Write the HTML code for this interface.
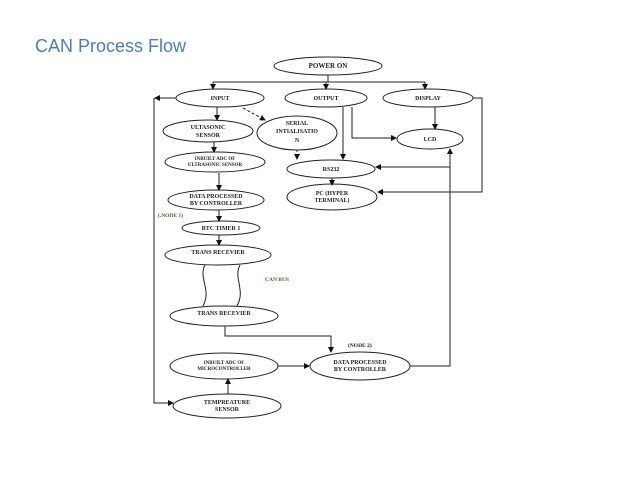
<!DOCTYPE html>
<html><head><meta charset="utf-8"><style>
html,body{margin:0;padding:0;background:#fff;}
svg{display:block}
.t{font-family:"Liberation Serif",serif;font-size:6px;font-weight:bold;fill:#222;text-anchor:middle}
</style></head><body>
<svg width="638" height="479" viewBox="0 0 638 479" xmlns="http://www.w3.org/2000/svg">
<defs><marker id="a" markerWidth="6" markerHeight="6" refX="5" refY="3" orient="auto" markerUnits="userSpaceOnUse"><path d="M0,0 L6,3 L0,6 z" fill="#111"/></marker></defs>
<text x="35" y="52" font-family="Liberation Sans,sans-serif" font-size="18" fill="#4a7ebb">CAN Process Flow</text>
<g fill="none" stroke="#222" stroke-width="1">
<ellipse cx="328" cy="66" rx="54" ry="9"/>
<ellipse cx="220" cy="98" rx="44" ry="9"/>
<ellipse cx="326" cy="98" rx="41" ry="9"/>
<ellipse cx="428" cy="98" rx="45" ry="9"/>
<ellipse cx="208" cy="131" rx="45" ry="11"/>
<ellipse cx="297" cy="133" rx="40" ry="17"/>
<ellipse cx="215" cy="162" rx="50" ry="10"/>
<ellipse cx="216" cy="200" rx="48" ry="10"/>
<ellipse cx="221" cy="228" rx="39" ry="7"/>
<ellipse cx="218" cy="255" rx="53" ry="10"/>
<ellipse cx="224" cy="316" rx="54" ry="10"/>
<ellipse cx="224" cy="366" rx="54" ry="13"/>
<ellipse cx="360" cy="366" rx="50" ry="14"/>
<ellipse cx="227" cy="406" rx="54" ry="12"/>
<ellipse cx="430" cy="139" rx="33" ry="10"/>
<ellipse cx="331" cy="169" rx="44" ry="9"/>
<ellipse cx="332" cy="197" rx="45" ry="13"/>
<path d="M328 75 V82 M213 82 H425"/>
<path d="M213 82 V89" marker-end="url(#a)"/>
<path d="M326 82 V89" marker-end="url(#a)"/>
<path d="M425 82 V89" marker-end="url(#a)"/>
<path d="M176 98 H155" marker-end="url(#a)"/>
<path d="M154 98 V403 H173" marker-end="url(#a)"/>
<path d="M217 107 V120" marker-end="url(#a)"/>
<path d="M243 108 L265 120" stroke-dasharray="3,2" marker-end="url(#a)"/>
<path d="M214 142 V152" marker-end="url(#a)"/>
<path d="M219 173 V190" marker-end="url(#a)"/>
<path d="M219 210 V221" marker-end="url(#a)"/>
<path d="M219 235 V245" marker-end="url(#a)"/>
<path d="M205 265 C198 278,212 290,203 306 M240 265 C233 278,246 290,237 306"/>
<path d="M225 326 V336 H331 V352" marker-end="url(#a)"/>
<path d="M278 366 H309" marker-end="url(#a)"/>
<path d="M228 394 V379" marker-end="url(#a)"/>
<path d="M410 366 H450 V149" marker-end="url(#a)"/>
<path d="M450 167 H376" marker-end="url(#a)"/>
<path d="M473 98 H482 V192 H378" marker-end="url(#a)"/>
<path d="M435 107 V129" marker-end="url(#a)"/>
<path d="M352 107 V138 H396" marker-end="url(#a)"/>
<path d="M343 107 V159" marker-end="url(#a)"/>
<path d="M297 150 V159" stroke-dasharray="2,2" marker-end="url(#a)"/>
<path d="M332 178 V185" marker-end="url(#a)"/>
</g>
<text class="t" x="328" y="68" style="font-size:7px">POWER ON</text>
<text class="t" x="220" y="100">INPUT</text>
<text class="t" x="326" y="100">OUTPUT</text>
<text class="t" x="428" y="100">DISPLAY</text>
<text class="t" x="208" y="129">ULTASONIC</text>
<text class="t" x="208" y="137">SENSOR</text>
<text class="t" x="297" y="125">SERIAL</text>
<text class="t" x="297" y="133">INTIALISATIO</text>
<text class="t" x="297" y="142">N</text>
<text class="t" x="215" y="160" style="font-size:5px">INBUILT ADC OF</text>
<text class="t" x="215" y="166" style="font-size:5px">ULTRASONIC SENSOR</text>
<text class="t" x="216" y="198">DATA PROCESSED</text>
<text class="t" x="216" y="205">BY CONTROLLER</text>
<text x="158" y="217" font-family="Liberation Serif,serif" font-size="5.5" font-weight="bold" fill="#3a6a2a">(.NODE 1)</text>
<text class="t" x="221" y="230">RTC TIMER 1</text>
<text class="t" x="218" y="254">TRANS RECEVIER</text>
<text x="265" y="281" font-family="Liberation Serif,serif" font-size="5.5" font-weight="bold" fill="#3a6a2a">CAN BUS</text>
<text class="t" x="224" y="315">TRANS RECEVIER</text>
<text x="348" y="347" font-family="Liberation Serif,serif" font-size="5.5" font-weight="bold" fill="#222">(NODE 2)</text>
<text class="t" x="224" y="364" style="font-size:5px">INBUILT ADC OF</text>
<text class="t" x="224" y="370" style="font-size:5px">MICROCONTROLLER</text>
<text class="t" x="360" y="364">DATA PROCESSED</text>
<text class="t" x="360" y="371">BY CONTROLLER</text>
<text class="t" x="227" y="404">TEMPREATURE</text>
<text class="t" x="227" y="411">SENSOR</text>
<text class="t" x="430" y="141">LCD</text>
<text class="t" x="331" y="171">RS232</text>
<text class="t" x="332" y="195">PC (HYPER</text>
<text class="t" x="332" y="202">TERMINAL)</text>
</svg>
</body></html>
